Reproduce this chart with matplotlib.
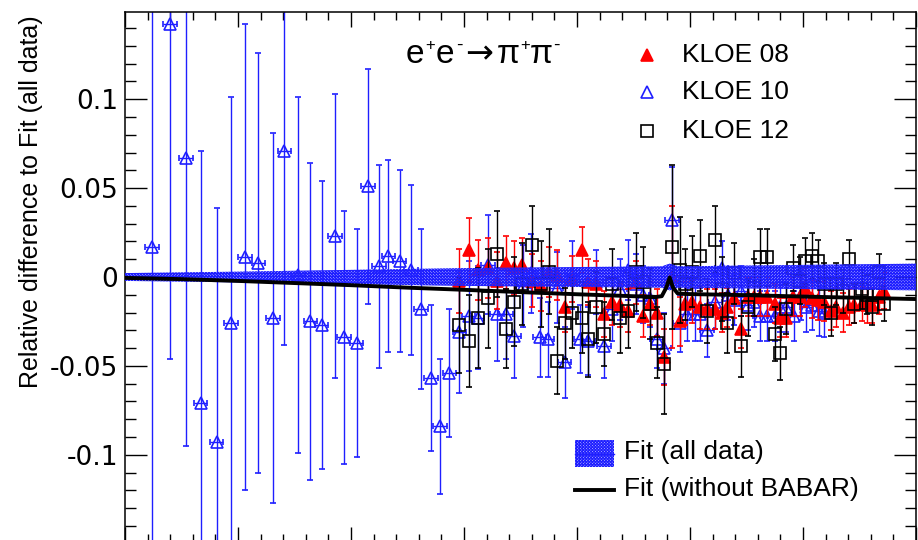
import matplotlib
matplotlib.use("Agg")
import matplotlib.pyplot as plt
from matplotlib.patches import Rectangle
from matplotlib.lines import Line2D
from matplotlib.ticker import MultipleLocator, FixedLocator

plt.rcParams["font.family"] = ["Liberation Sans", "DejaVu Sans"]
plt.rcParams["hatch.linewidth"] = 0.8

# ---- data: sqrt(s) [GeV] and relative difference to the fit ----
kloe10_x = [0.324, 0.340, 0.354, 0.367, 0.381, 0.394, 0.406, 0.418, 0.431, 0.441,
            0.453, 0.464, 0.474, 0.486, 0.494, 0.505, 0.515, 0.525, 0.533, 0.543,
            0.553, 0.562, 0.571, 0.579, 0.587,
            0.596, 0.604, 0.612, 0.621, 0.629, 0.637, 0.644, 0.652, 0.659, 0.667,
            0.674, 0.682, 0.689, 0.696, 0.703, 0.710, 0.717, 0.724, 0.731, 0.738,
            0.745, 0.752, 0.758, 0.765, 0.771, 0.777, 0.784, 0.791, 0.797, 0.804,
            0.809, 0.815, 0.822, 0.828, 0.834, 0.839, 0.845, 0.851, 0.857, 0.862,
            0.868, 0.875, 0.880, 0.885, 0.892, 0.898, 0.903, 0.908, 0.914, 0.919]
kloe10_y = [0.017, 0.142, 0.067, -0.071, -0.093, -0.026, 0.011, 0.008, -0.023, 0.071,
            0.001, -0.025, -0.027, 0.023, -0.034, -0.037, 0.051, 0.006, 0.012, 0.009,
            0.004, -0.018, -0.057, -0.084, -0.054,
            -0.031, -0.022, -0.023, 0.007, -0.021, -0.021, -0.033, -0.005, 0.002, -0.034,
            -0.035, -0.006, -0.048, 0.001, -0.035, -0.036, -0.003, -0.039, -0.018, -0.007,
            0.004, -0.004, -0.010, -0.012, -0.035, -0.040, 0.032, -0.026, -0.021, -0.021,
            -0.021, -0.030, -0.014, 0.005, -0.010, -0.013, -0.008, -0.016, -0.014, -0.022,
            -0.022, -0.022, -0.017, -0.017, -0.022, -0.010, -0.017, -0.016, -0.019, -0.020]
kloe10_err = [0.200, 0.188, 0.162, 0.142, 0.132, 0.127, 0.131, 0.118, 0.104, 0.109,
              0.100, 0.089, 0.081, 0.080, 0.071, 0.064, 0.066, 0.057, 0.054, 0.051,
              0.048, 0.045, 0.041, 0.038, 0.036,
              0.034, 0.031, 0.029, 0.028, 0.026, 0.025, 0.024, 0.023, 0.022, 0.022,
              0.021, 0.020, 0.020, 0.019, 0.019, 0.019, 0.018, 0.018, 0.018, 0.017,
              0.017, 0.017, 0.016, 0.016, 0.016, 0.020, 0.030, 0.016, 0.015, 0.015,
              0.015, 0.015, 0.015, 0.015, 0.014, 0.014, 0.014, 0.014, 0.014, 0.014,
              0.014, 0.014, 0.014, 0.014, 0.014, 0.014, 0.014, 0.014, 0.014, 0.014]
kloe10_xerr = 0.006

kloe_x = [0.596, 0.604, 0.612, 0.621, 0.629, 0.637, 0.644, 0.651, 0.660, 0.668,
          0.675, 0.682, 0.689, 0.696, 0.704, 0.710, 0.717, 0.724, 0.731, 0.738,
          0.745, 0.752, 0.758, 0.765, 0.771, 0.777, 0.784, 0.791, 0.796, 0.802,
          0.809, 0.815, 0.822, 0.828, 0.833, 0.839, 0.845, 0.851, 0.857, 0.862,
          0.868, 0.875, 0.880, 0.885, 0.891, 0.897, 0.902, 0.908, 0.913, 0.919,
          0.925, 0.929, 0.935, 0.941, 0.945, 0.952, 0.957, 0.961, 0.967, 0.972]
kloe08_y = [-0.002, 0.015, 0.004, 0.005, -0.002, 0.008, 0.005, 0.007, -0.002, -0.005,
            0.003, 0.001, -0.017, -0.001, 0.015, -0.003, -0.004, -0.021, -0.014, -0.016,
            -0.019, -0.003, -0.022, -0.015, -0.020, -0.045, 0.000, -0.025, -0.015, -0.014,
            -0.017, -0.018, -0.018, -0.020, -0.017, -0.012, -0.029, -0.011, -0.011, -0.011,
            -0.011, -0.015, -0.023, -0.023, -0.011, -0.011, -0.006, -0.012, -0.013, -0.014,
            -0.019, -0.017, -0.020, -0.017, -0.016, -0.015, -0.016, -0.016, -0.011, -0.008]
kloe08_err = [0.018, 0.018, 0.017, 0.017, 0.016, 0.015, 0.015, 0.015, 0.015, 0.014,
              0.014, 0.014, 0.014, 0.013, 0.013, 0.013, 0.013, 0.013, 0.013, 0.012,
              0.012, 0.012, 0.012, 0.012, 0.013, 0.016, 0.040, 0.014, 0.012, 0.012,
              0.012, 0.011, 0.011, 0.011, 0.011, 0.011, 0.011, 0.011, 0.011, 0.011,
              0.011, 0.011, 0.011, 0.011, 0.011, 0.011, 0.011, 0.011, 0.011, 0.011,
              0.011, 0.011, 0.011, 0.010, 0.010, 0.010, 0.010, 0.010, 0.010, 0.010]
kloe12_y = [-0.027, -0.036, -0.023, -0.012, 0.013, -0.029, -0.014, -0.004, 0.018, -0.004,
            0.003, -0.047, -0.026, -0.020, -0.023, -0.035, -0.017, -0.032, -0.004, -0.023,
            -0.019, 0.003, -0.003, -0.015, -0.037, -0.049, 0.017, 0.004, -0.004, 0.003,
            0.012, -0.019, 0.021, -0.007, -0.026, 0.002, -0.039, -0.017, -0.006, 0.011,
            0.011, -0.032, -0.043, -0.018, 0.005, -0.002, 0.009, 0.012, 0.009, -0.004,
            -0.020, -0.004, -0.008, 0.010, -0.015, -0.007, -0.010, -0.017, 0.003, -0.015]
kloe12_err = [0.027, 0.026, 0.028, 0.028, 0.024, 0.022, 0.025, 0.023, 0.022, 0.024,
              0.024, 0.019, 0.020, 0.020, 0.020, 0.021, 0.020, 0.018, 0.020, 0.020,
              0.021, 0.022, 0.020, 0.020, 0.020, 0.028, 0.046, 0.030, 0.020, 0.020,
              0.020, 0.018, 0.019, 0.018, 0.017, 0.017, 0.017, 0.016, 0.016, 0.016,
              0.016, 0.015, 0.015, 0.014, 0.013, 0.013, 0.013, 0.013, 0.012, 0.012,
              0.013, 0.012, 0.012, 0.011, 0.011, 0.011, 0.011, 0.010, 0.010, 0.010]

# fit to all data: uncertainty band around zero
band_x = [0.30, 0.40, 0.50, 0.60, 0.70, 0.775, 0.782, 0.79, 0.90, 1.00]
band_hw = [0.0022, 0.0030, 0.0040, 0.0050, 0.0056, 0.0060, 0.0075, 0.0060, 0.0068, 0.0075]

# fit without BABAR, relative to the full fit
fit_x = [0.30, 0.35, 0.40, 0.45, 0.50, 0.55, 0.60, 0.65, 0.70, 0.75, 0.770, 0.775,
         0.779, 0.782, 0.785, 0.789, 0.795, 0.80, 0.85, 0.90, 0.95, 1.00]
fit_y = [-0.0005, -0.0012, -0.0022, -0.0034, -0.0046, -0.0060, -0.0072, -0.0085,
         -0.0097, -0.0108, -0.0112, -0.0108, -0.0060, -0.0003, -0.0060, -0.0092,
         -0.0095, -0.0096, -0.0102, -0.0110, -0.0117, -0.0124]

BLUE = (0.12, 0.12, 1.0)
RED = (1.0, 0.0, 0.0)
BAND_FACE = (0.3, 0.3, 1.0, 0.45)
HATCH = "x" * 11
W, H = 918, 540

fig = plt.figure(figsize=(W / 100, H / 100), dpi=100)
ax = fig.add_axes([125 / W, -2 / H, (916 - 125) / W, (542 - 12) / H])

eb = dict(linestyle="none", elinewidth=1.0, capsize=2.4, capthick=1.0, mew=1.2)
ax.errorbar(kloe10_x, kloe10_y, yerr=kloe10_err, xerr=kloe10_xerr, fmt="^",
            ms=8.5, mfc="none", mec=BLUE, ecolor=BLUE, zorder=2, **eb)
ax.errorbar(kloe_x, kloe08_y, yerr=kloe08_err, fmt="^",
            ms=8.0, mfc=RED, mec=RED, ecolor=RED, zorder=3, **eb)
ax.errorbar(kloe_x, kloe12_y, yerr=kloe12_err, fmt="s",
            ms=8.3, mfc="none", mec="black", ecolor="black", zorder=4, **eb)

lo = [-h for h in band_hw]
ax.fill_between(band_x, lo, band_hw, facecolor=BAND_FACE, edgecolor=BLUE,
                hatch=HATCH, linewidth=0, zorder=5)
ax.plot(fit_x, fit_y, color="black", lw=2.8, zorder=6, solid_joinstyle="round")

ax.set_xlim(0.3, 1.0)
ax.set_ylim(-0.149, 0.149)
ax.xaxis.set_major_locator(MultipleLocator(0.1))
ax.xaxis.set_minor_locator(MultipleLocator(0.02))
ax.yaxis.set_major_locator(FixedLocator([-0.1, -0.05, 0.0, 0.05, 0.1]))
ax.yaxis.set_minor_locator(MultipleLocator(0.01))
ax.set_yticklabels(["-0.1", "-0.05", "0", "0.05", "0.1"],
                   fontfamily="DejaVu Sans", fontsize=19)
ax.tick_params(which="both", direction="in", top=True, right=True,
               labelbottom=False, width=1.0)
ax.tick_params(axis="y", which="major", length=16, pad=5)
ax.tick_params(axis="y", which="minor", length=8)
ax.tick_params(axis="x", which="major", length=11)
ax.tick_params(axis="x", which="minor", length=5.5)
for s in ax.spines.values():
    s.set_linewidth(1.1)

fig.text(31 / W, 1 - 15 / H, "Relative difference to Fit (all data)",
         rotation=90, ha="center", va="top", fontsize=18)


def fx(px):
    return px / W


def fy(py):
    return 1 - py / H


# reaction label, set piece by piece with small raised charges
base_y, sup_y = 63, 50
for txt, px, py, size, fam in [("e", 406, base_y, 24, "Liberation Sans"),
                               ("+", 425, sup_y, 12, "Liberation Sans"),
                               ("e", 436, base_y, 24, "Liberation Sans"),
                               ("-", 456, sup_y, 14, "Liberation Sans"),
                               ("\u2192", 465, base_y, 24, "DejaVu Sans"),
                               ("\u03c0", 497, base_y, 24, "Liberation Sans"),
                               ("+", 520, sup_y, 12, "Liberation Sans"),
                               ("\u03c0", 530, base_y, 24, "Liberation Sans"),
                               ("-", 553, sup_y, 14, "Liberation Sans")]:
    fig.text(fx(px), fy(py), txt, ha="left", va="baseline", fontsize=size,
             family=fam)

# dataset key
key = [("^", RED, RED, 8.0, "KLOE 08", 55),
       ("^", "none", BLUE, 8.5, "KLOE 10", 92),
       ("s", "none", "black", 8.3, "KLOE 12", 131)]
for m, fc, ec, ms, lab, py in key:
    fig.add_artist(Line2D([fx(647)], [fy(py)], marker=m, ms=ms, mfc=fc, mec=ec,
                          mew=1.2, linestyle="none", transform=fig.transFigure))
    fig.text(fx(682), fy(py), lab, ha="left", va="center", fontsize=19)

# fit key
fig.add_artist(Rectangle((fx(575), fy(467)), fx(614) - fx(575), fy(440) - fy(467),
                         facecolor=BAND_FACE, edgecolor=BLUE, hatch=HATCH,
                         linewidth=0, transform=fig.transFigure))
fig.add_artist(Line2D([fx(575), fx(614)], [fy(453.5), fy(453.5)], color=BLUE,
                      lw=1.0, transform=fig.transFigure))
fig.text(fx(624), fy(452), "Fit (all data)", ha="left", va="center", fontsize=19)
fig.add_artist(Line2D([fx(575), fx(614)], [fy(490), fy(490)], color="black",
                      lw=2.8, transform=fig.transFigure))
fig.text(fx(624), fy(489), "Fit (without BABAR)", ha="left", va="center", fontsize=19)

fig.savefig("out.png", dpi=100)
